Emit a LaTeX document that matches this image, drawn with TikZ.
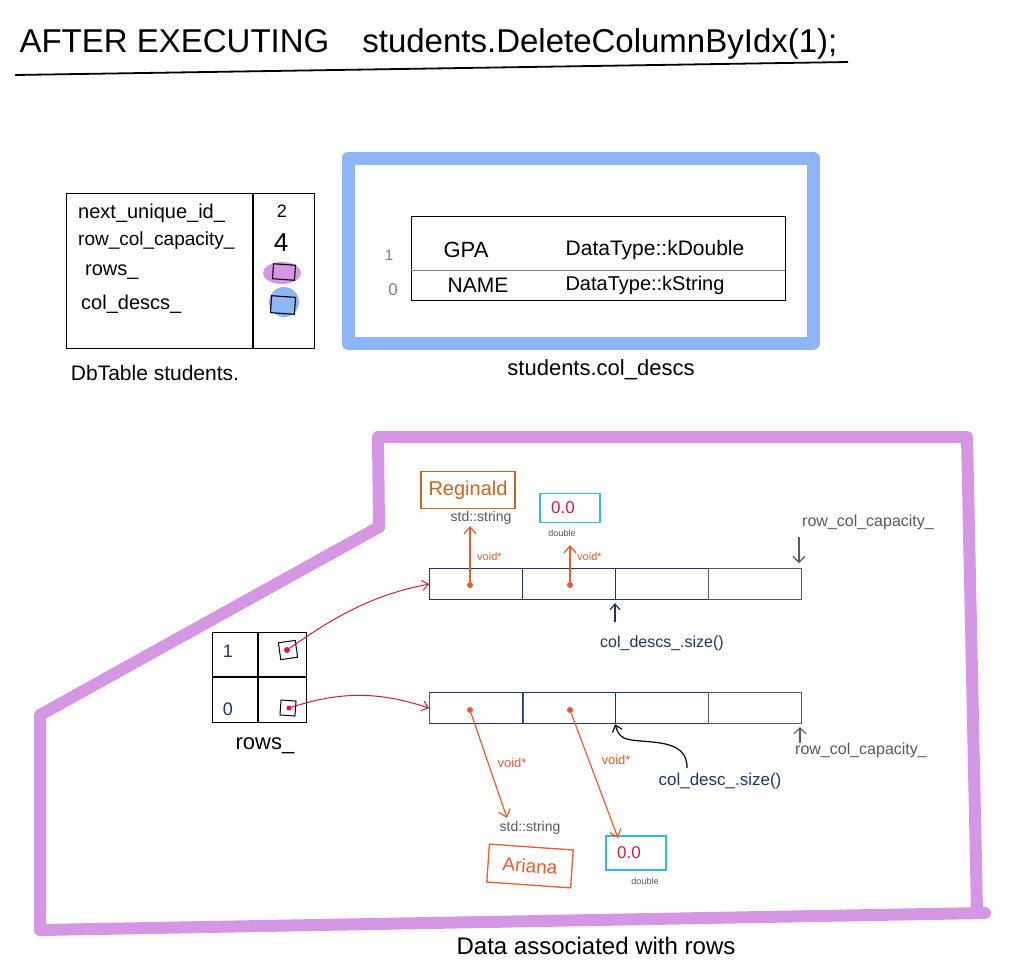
\documentclass[tikz,border=0pt]{standalone}
\usepackage{fontspec}
\setmainfont{Liberation Sans}
\usetikzlibrary{arrows.meta,shapes.geometric}
\definecolor{bluef}{HTML}{8DB6F7}
\definecolor{purpf}{HTML}{D596E4}
\definecolor{navy}{HTML}{1E3566}
\definecolor{redd}{HTML}{D81B3C}
\definecolor{oran}{HTML}{EE5A30}
\definecolor{brown}{HTML}{C8661E}
\definecolor{cyanb}{HTML}{2EC0DA}
\definecolor{grayt}{HTML}{555A5A}
\newcommand{\fs}[1]{\fontsize{#1}{#1}\selectfont}
\tikzset{
  lbl/.style={font=\fs{15}, inner sep=1pt},
  frame/.style={line width=13pt, line cap=round, line join=round},
  cellbox/.style={draw=navy, line width=1.3pt},
  ptr/.style={draw=oran, line width=1.2pt, -{Straight Barb[length=7pt,width=12pt]}},
  dotp/.style={circle, fill=oran, inner sep=0pt, minimum size=6pt},
}
\begin{document}
\begin{tikzpicture}[x=1pt,y=-1pt]
\useasboundingbox (0,0) rectangle (1018,975);
% title
\node[font=\fs{33}, anchor=west] (title) at (16,44) {AFTER EXECUTING\quad students.DeleteColumnByIdx(1);};
\coordinate (ul1) at (15,75); \coordinate (ul2) at (848,62);
\draw[line width=1.8pt] (ul1) -- (ul2);

% DbTable
\node[draw, line width=1.2pt, minimum width=248pt, minimum height=155pt, anchor=north west, inner sep=0pt] (db) at (66,193) {};
\coordinate (dbt) at (253,193); \coordinate (dbb) at (253,348);
\draw[line width=1.2pt] (dbt) -- (dbb);
\node[lbl, font=\fs{20}, anchor=west] (f1) at (77,213) {next\_unique\_id\_};
\node[lbl, font=\fs{19}, anchor=west] (f2) at (77,241) {row\_col\_capacity\_};
\node[lbl, font=\fs{20}, anchor=west] (f3) at (84,272) {rows\_};
\node[lbl, font=\fs{20}, anchor=west] (f4) at (80,304) {col\_descs\_};
\node[font=\fs{18}] (v1) at (282,211) {2};
\node[font=\fs{26}] (v2) at (281,243) {4};
\node[ellipse, fill=purpf, minimum width=38pt, minimum height=22pt, inner sep=0pt] (v3) at (282,273) {};
\node[draw, line width=1.1pt, rotate=-4, minimum width=22pt, minimum height=15pt, inner sep=0pt] (v3b) at (284,272) {};
\node[circle, fill=bluef, minimum width=30pt, minimum height=24pt, inner sep=0pt] (v4) at (284,302) {};
\node[draw, line width=1.1pt, rotate=-4, fill=bluef, minimum width=24pt, minimum height=17pt, inner sep=0pt] (v4b) at (283,305) {};
\node[font=\fs{21}] (dbcap) at (155,373) {DbTable students.};

% col descs frame
\coordinate (b1) at (348,158); \coordinate (b2) at (813,158);
\coordinate (b3) at (813,343); \coordinate (b4) at (348,343);
\draw[bluef, frame] (b1) -- (b2) -- (b3) -- (b4) -- cycle;
\node[draw, line width=1.3pt, minimum width=374pt, minimum height=84pt, inner sep=0pt, anchor=north west] (cd) at (411,216) {};
\coordinate (cdl) at (411,270); \coordinate (cdr) at (785,270);
\draw[gray, line width=1pt] (cdl) -- (cdr);
\node[lbl, font=\fs{22}] (gpa) at (466,250) {GPA};
\node[lbl, font=\fs{21}] (kd) at (655,250) {DataType::kDouble};
\node[lbl, font=\fs{21}] (nm) at (478,285) {NAME};
\node[lbl, font=\fs{20}] (ks) at (645,285) {DataType::kString};
\node[lbl, gray] (i1) at (389,255) {1};
\node[lbl, gray, font=\fs{17}] (i0) at (393,290) {0};
\node[font=\fs{22}] (cdcap) at (601,370) {students.col\_descs};

% purple region
\coordinate (p1) at (378,437); \coordinate (p2) at (967,437);
\coordinate (p3) at (977,911); \coordinate (p4) at (40,930);
\coordinate (p5) at (40,715); \coordinate (p6) at (379,527);
\coordinate (p7) at (985,913);
\draw[purpf, line width=12pt, line cap=round, line join=round] (p6) -- (p1) -- (p2) -- (p3);
\draw[purpf, line width=12pt, line cap=round, line join=round] (p7) -- (p4) -- (p5) -- (p6);
\node[font=\fs{24}] (datacap) at (596,946) {Data associated with rows};

% rows_ box
\node[draw, line width=1.2pt, minimum width=94pt, minimum height=90pt, inner sep=0pt, anchor=north west] (rows) at (212,632) {};
\coordinate (rv1) at (258,632); \coordinate (rv2) at (258,722);
\coordinate (rh1) at (212,677); \coordinate (rh2) at (306,677);
\draw[line width=1.2pt] (rv1) -- (rv2) (rh1) -- (rh2);
\node[lbl, navy, font=\fs{18}] (r1) at (228,651) {1};
\node[lbl, navy, font=\fs{18}] (r0) at (228,709) {0};
\node[draw, line width=1pt, rotate=8, minimum size=17pt, inner sep=0pt] (s1) at (288,650) {};
\node[draw, line width=1pt, rotate=-4, minimum size=15pt, inner sep=0pt] (s0) at (288,708) {};
\node[circle, fill=redd, minimum size=6pt, inner sep=0pt] (d1) at (287,650) {};
\node[circle, fill=redd, minimum size=5pt, inner sep=0pt] (d0) at (289,708) {};
\node[lbl, font=\fs{22}] (rowscap) at (265,746) {rows\_};

% arrays
\foreach \y/\n in {568/up, 692/lo} {
  \node[cellbox, minimum width=93pt, minimum height=31pt, inner sep=0pt, anchor=north west] (\n1) at (429,\y) {};
  \node[cellbox, minimum width=93pt, minimum height=31pt, inner sep=0pt, anchor=north west] (\n2) at (522,\y) {};
  \node[cellbox, minimum width=93pt, minimum height=31pt, inner sep=0pt, anchor=north west] (\n3) at (615,\y) {};
  \node[draw=grayt, line width=1.3pt, minimum width=93pt, minimum height=31pt, inner sep=0pt, anchor=north west] (\n4) at (708,\y) {};
}
\draw[redd, line width=1.2pt] (lo1.north east) -- (lo1.south east);
\draw[redd, line width=1pt] (lo1.north west) -- (lo1.south west);

% red pointers from rows_
\draw[redd, line width=1pt, -{Straight Barb[length=6pt,width=10pt]}] (d1) .. controls (330,620) and (370,595) .. (up1.west);
\draw[redd, line width=1pt, -{Straight Barb[length=6pt,width=10pt]}] (d0) .. controls (330,695) and (370,688) .. (lo1.west);

% upper row values
\node[dotp] (ud1) at (470,585) {};
\node[dotp] (ud2) at (570,585) {};
\node[draw=brown, line width=1.3pt, minimum width=94pt, minimum height=37pt, inner sep=0pt, text=brown, font=\fs{20}] (reg) at (468,490) {Reginald};
\node[lbl, grayt, font=\fs{14}] (uss) at (481,518) {std::string};
\node[draw=cyanb, line width=1.3pt, minimum width=60pt, minimum height=29pt, inner sep=0pt, text=redd, font=\fs{17}] (ud) at (570,508) {\hspace{-14pt}0.0};
\node[lbl, grayt, font=\fs{9}] (udbl) at (562,533) {double};
\coordinate (ua1) at (470,526); \coordinate (ua2) at (570,545);
\draw[ptr] (ud1) -- (ua1);
\draw[ptr] (ud2) -- (ua2);
\node[lbl, oran, font=\fs{11}, anchor=west] (uv1) at (476,557) {void*};
\node[lbl, oran, font=\fs{11}, anchor=west] (uv2) at (576,557) {void*};

% upper annotations
\node[lbl, grayt, font=\fs{16}] (urc) at (868,522) {row\_col\_capacity\_};
\coordinate (urct) at (799,537);
\draw[grayt, line width=1.1pt, -{Straight Barb[length=6pt,width=12pt]}] (urct) -- (799,563);
\node[lbl, navy, font=\fs{16}] (ucd) at (662,643) {col\_descs\_.size()};
\coordinate (ucdt) at (615,622);
\draw[navy, line width=1.2pt, -{Straight Barb[length=6pt,width=10pt]}] (ucdt) -- (615,603);

% lower row values
\node[dotp] (ld1) at (470,710) {};
\node[dotp] (ld2) at (570,710) {};
\node[lbl, grayt, font=\fs{14}] (lss) at (530,828) {std::string};
\node[draw=oran, line width=1.3pt, minimum width=84pt, minimum height=38pt, inner sep=0pt, text=oran, font=\fs{19}, rotate=-4] (ari) at (530,866) {Ariana};
\node[draw=cyanb, line width=1.3pt, minimum width=60pt, minimum height=34pt, inner sep=0pt, text=redd, font=\fs{17}] (ld) at (636,853) {\hspace{-14pt}0.0};
\node[lbl, grayt, font=\fs{9}] (ldbl) at (645,881) {double};
\coordinate (la1) at (507,818); \coordinate (la2) at (618,838);
\draw[ptr] (ld1) -- (la1);
\draw[ptr] (ld2) -- (la2);
\node[lbl, oran, font=\fs{13}] (lv1) at (512,763) {void*};
\node[lbl, oran, font=\fs{13}] (lv2) at (616,760) {void*};

% lower annotations
\node[lbl, grayt, font=\fs{16}, anchor=west] (lrc) at (794,750) {row\_col\_capacity\_};
\coordinate (lrct) at (800,743);
\draw[grayt, line width=1.1pt, -{Straight Barb[length=6pt,width=12pt]}] (lrct) -- (800,727);
\node[lbl, navy, font=\fs{17}] (lcd) at (720,781) {col\_desc\_.size()};
\coordinate (lcdt) at (687,768);
\draw[line width=1.2pt, -{Straight Barb[length=6pt,width=10pt]}] (lcdt) .. controls (688,735) and (640,745) .. (624,738) .. controls (618,735) and (617,730) .. (lo3.south west);
\end{tikzpicture}
\end{document}
